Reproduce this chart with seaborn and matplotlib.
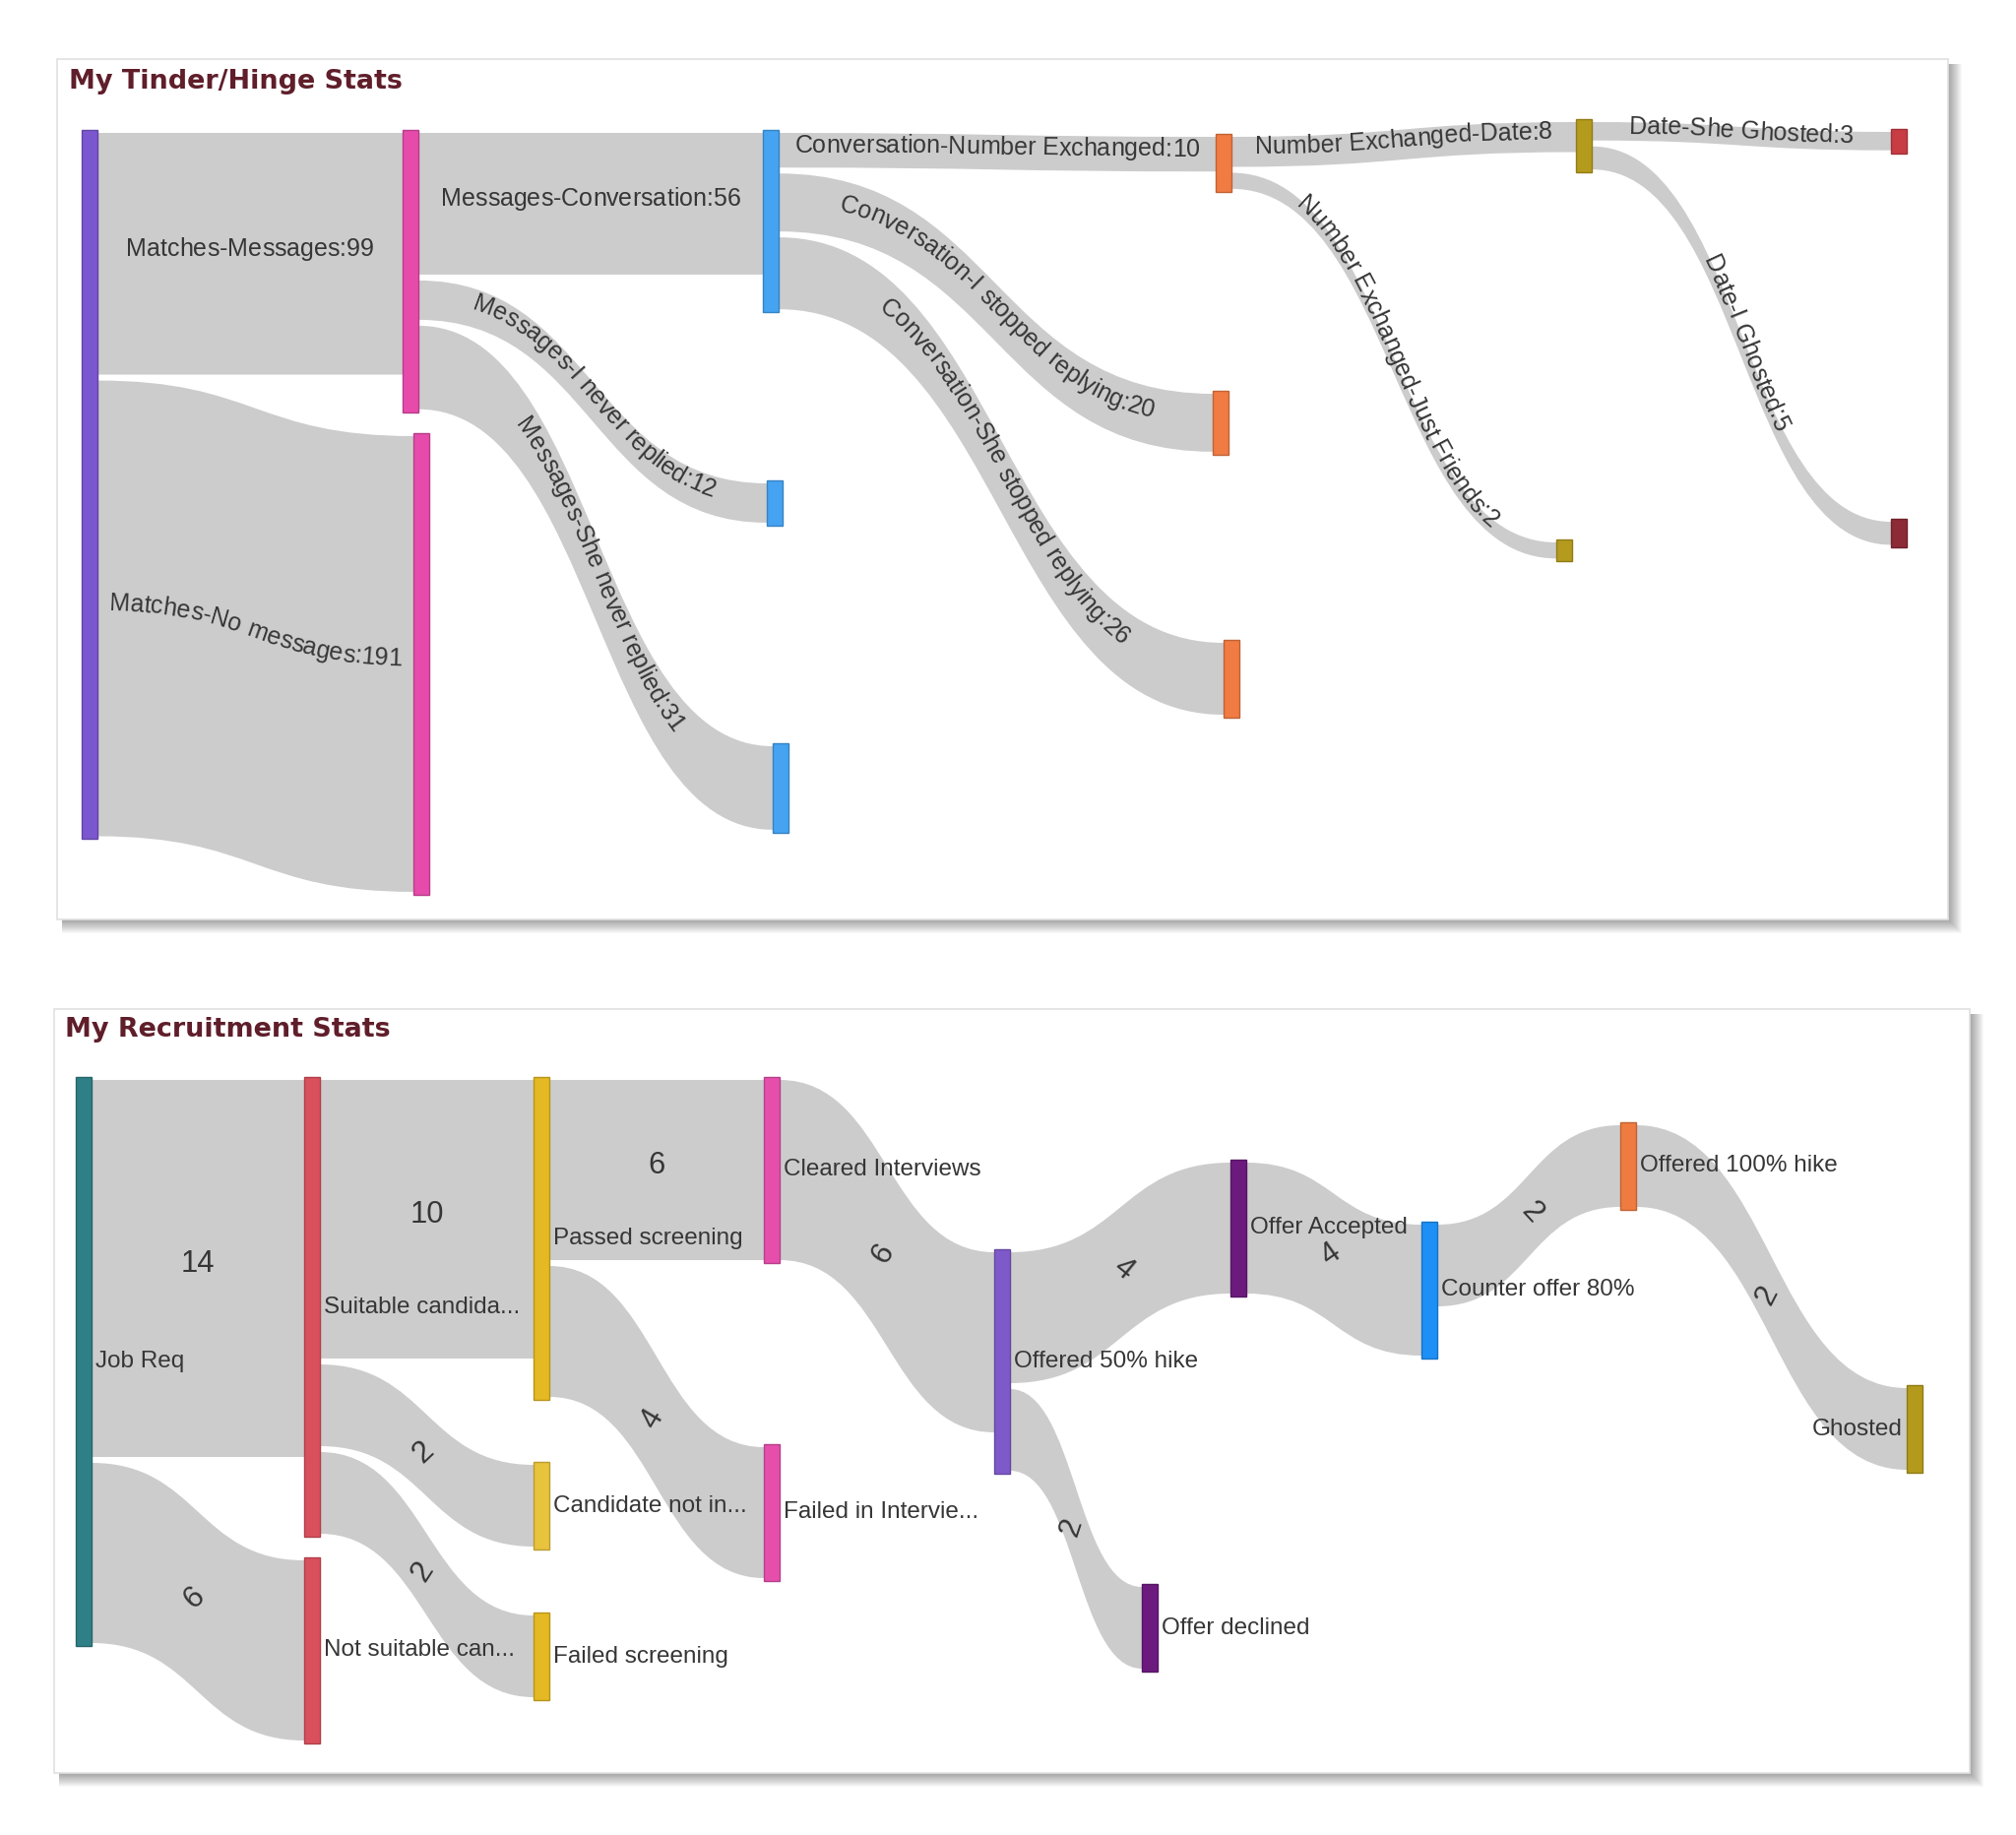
import numpy as np
import matplotlib
matplotlib.use("Agg")
import matplotlib.pyplot as plt
import seaborn as sns
from matplotlib.path import Path
from matplotlib.patches import PathPatch, Rectangle
from matplotlib import ft2font
from matplotlib.font_manager import FontProperties, findfont, get_font
from matplotlib.colors import to_rgb

# ------------------------------------------------------------------ data
tinder_nodes = ["Matches", "Messages", "No messages", "Conversation",
                "I never replied", "She never replied", "Number Exchanged",
                "I stopped replying", "She stopped replying", "Date",
                "Just Friends", "She Ghosted", "I Ghosted"]
tinder_sources = ["Matches", "Matches", "Messages", "Messages", "Messages",
                  "Conversation", "Conversation", "Conversation",
                  "Number Exchanged", "Number Exchanged", "Date", "Date"]
tinder_targets = ["Messages", "No messages", "Conversation", "I never replied",
                  "She never replied", "Number Exchanged", "I stopped replying",
                  "She stopped replying", "Date", "Just Friends",
                  "She Ghosted", "I Ghosted"]
tinder_values = [99, 191, 56, 12, 31, 10, 20, 26, 8, 2, 3, 5]

recruit_nodes = ["Job Req", "Suitable candidates", "Not suitable candidates",
                 "Passed screening", "Candidate not interested", "Failed screening",
                 "Cleared Interviews", "Failed in Interviews", "Offered 50% hike",
                 "Offer declined", "Offer Accepted", "Counter offer 80%",
                 "Offered 100% hike", "Ghosted"]
recruit_node_labels = ["Job Req", "Suitable candida...", "Not suitable can...",
                       "Passed screening", "Candidate not in...", "Failed screening",
                       "Cleared Interviews", "Failed in Intervie...", "Offered 50% hike",
                       "Offer declined", "Offer Accepted", "Counter offer 80%",
                       "Offered 100% hike", "Ghosted"]
recruit_sources = ["Job Req", "Job Req", "Suitable candidates", "Suitable candidates",
                   "Suitable candidates", "Passed screening", "Passed screening",
                   "Cleared Interviews", "Offered 50% hike", "Offered 50% hike",
                   "Offer Accepted", "Counter offer 80%", "Offered 100% hike"]
recruit_targets = ["Suitable candidates", "Not suitable candidates", "Passed screening",
                   "Candidate not interested", "Failed screening", "Cleared Interviews",
                   "Failed in Interviews", "Offered 50% hike", "Offer Accepted",
                   "Offer declined", "Counter offer 80%", "Offered 100% hike", "Ghosted"]
recruit_values = [14, 6, 10, 2, 2, 6, 4, 6, 4, 2, 4, 2, 2]

tinder_title = "My Tinder/Hinge Stats"
recruit_title = "My Recruitment Stats"

# ------------------------------------------------------------------ styles / layout (pixels)
tinder_colors = ["#7b57cf", "#e64bab", "#e64bab", "#45a3f2", "#45a3f2", "#45a3f2",
                 "#f07b43", "#f07b43", "#f07b43", "#b49b1e", "#b49b1e",
                 "#c83c44", "#8c2a36"]
recruit_colors = ["#2e7f86", "#d9505c", "#d9505c", "#e5b923", "#e8c33e", "#e5b923",
                  "#e54fab", "#e54fab", "#7e59c9", "#6c1a7e", "#6c1a7e", "#1e8ff5",
                  "#ef7b40", "#b39a1c"]
recruit_label_side = ["right"] * 13 + ["left"]

tinder_node_x = [83, 409, 420, 775, 779, 785, 1235, 1232, 1243, 1601, 1581, 1921, 1921]
tinder_node_y = [132, 132, 440, 132, 488, 755, 136, 397, 650, 121, 548, 131, 527]
recruit_node_x = [77, 309, 309, 542, 542, 542, 776, 776, 1010, 1160, 1250, 1444, 1646, 1937]
recruit_node_y = [1094, 1094, 1582, 1094, 1485, 1638, 1094, 1467, 1269, 1609, 1178,
                  1241, 1140, 1407]

NODE_W = 16
INSET = 3
TINDER_SCALE = (17.6, 2.363)   # width = a + b * value
RECRUIT_SCALE = (39.0, 25.0)
LINK_COLOR = "#cccccc"
TEXT_COLOR = "#363636"
TITLE_COLOR = "#5f1e2a"
DPI = 100
FIG_W, FIG_H = 2048, 1864

sns.set_theme(style="white")
plt.rcParams['font.family'] = ['Liberation Sans', 'DejaVu Sans']


def px2pt(px):
    return px * 72.0 / DPI


def advances(text, fp, size_px):
    font = get_font(findfont(fp))
    font.set_size(px2pt(size_px), DPI)
    flags = (ft2font.LoadFlags.NO_HINTING if hasattr(ft2font, "LoadFlags")
             else ft2font.LOAD_NO_HINTING)
    out = []
    for ch in text:
        g = font.load_char(ord(ch), flags=flags)
        out.append(g.linearHoriAdvance / 65536.0)
    return np.array(out)


def bez(P, t):
    p0, p1, p2, p3 = [np.asarray(p, float) for p in P]
    t = np.atleast_1d(t)[:, None]
    return ((1 - t) ** 3) * p0 + 3 * ((1 - t) ** 2) * t * p1 + 3 * (1 - t) * t ** 2 * p2 + t ** 3 * p3


def bez_d(P, t):
    p0, p1, p2, p3 = [np.asarray(p, float) for p in P]
    t = np.atleast_1d(t)[:, None]
    return 3 * ((1 - t) ** 2) * (p1 - p0) + 6 * (1 - t) * t * (p2 - p1) + 3 * t ** 2 * (p3 - p2)


def layout_links(nodes, sources, targets, values, ny, scale):
    idx = {n: i for i, n in enumerate(nodes)}
    a, b = scale
    out_off = [0.0] * len(nodes)
    in_off = [0.0] * len(nodes)
    links = []
    for s, t, v in zip(sources, targets, values):
        w = a + b * v
        i, j = idx[s], idx[t]
        ys = ny[i] + out_off[i]
        out_off[i] += w
        yt = ny[j] + in_off[j]
        in_off[j] += w
        links.append((i, j, ys, yt, w, s, t, v))
    heights = [max(o, n) for o, n in zip(out_off, in_off)]
    return links, heights


def draw_band(ax, x0, x1, ys, yt, w):
    xm = (x0 + x1) / 2.0
    a0, a1 = ys + INSET, yt + INSET
    b0, b1 = ys + w - INSET, yt + w - INSET
    verts = [(x0, a0), (xm, a0), (xm, a1), (x1, a1), (x1, b1), (xm, b1), (xm, b0),
             (x0, b0), (x0, a0)]
    codes = [Path.MOVETO, Path.CURVE4, Path.CURVE4, Path.CURVE4, Path.LINETO,
             Path.CURVE4, Path.CURVE4, Path.CURVE4, Path.CLOSEPOLY]
    ax.add_patch(PathPatch(Path(verts, codes), facecolor=LINK_COLOR, edgecolor="none",
                           zorder=2))
    yc0, yc1 = ys + w / 2.0, yt + w / 2.0
    return [(x0, yc0), (xm, yc0), (xm, yc1), (x1, yc1)]


def text_on_path(ax, P, text, size_px, base_off):
    fp = FontProperties(family=['Liberation Sans', 'DejaVu Sans'])
    t = np.linspace(0, 1, 1201)
    pts = bez(P, t)
    seg = np.hypot(np.diff(pts[:, 0]), np.diff(pts[:, 1]))
    s = np.concatenate([[0.0], np.cumsum(seg)])
    adv = advances(text, fp, size_px)
    start = s[-1] / 2.0 - adv.sum() / 2.0
    centers = start + np.cumsum(adv) - adv / 2.0
    for ch, sc in zip(text, centers):
        tt = np.interp(sc, s, t)
        x, y = bez(P, tt)[0]
        dx, dy = bez_d(P, tt)[0]
        th = -np.arctan2(dy, dx)
        ax.text(x + base_off * np.sin(th), y + base_off * np.cos(th), ch,
                rotation=np.degrees(th), rotation_mode="anchor", ha="center",
                va="baseline", fontsize=px2pt(size_px), color=TEXT_COLOR,
                family=['Liberation Sans', 'DejaVu Sans'], zorder=5)


def value_label(ax, P, text, size_px, base_off):
    x, y = bez(P, 0.5)[0]
    dx, dy = bez_d(P, 0.5)[0]
    th = np.arctan2(dy, dx)  # rotation as drawn in the original visual
    ax.text(x + base_off * np.sin(th), y + base_off * np.cos(th), text,
            rotation=np.degrees(th), rotation_mode="anchor", ha="center",
            va="baseline", fontsize=px2pt(size_px), color=TEXT_COLOR,
            family=['Liberation Sans', 'DejaVu Sans'], zorder=5)


def draw_nodes(ax, nx, ny, heights, colors):
    for x, y, h, c in zip(nx, ny, heights, colors):
        edge = tuple(np.array(to_rgb(c)) * 0.8)
        ax.add_patch(Rectangle((x, y), NODE_W, h, facecolor=c, edgecolor=edge,
                               lw=1.0, zorder=3))


def draw_panel(ax, box, title, tx, ty):
    x0, y0, x1, y1 = box
    for k in range(1, 15):
        ax.add_patch(Rectangle((x0 + 5, y0 + 5), (x1 - x0) - 5 + k, (y1 - y0) - 5 + k,
                               facecolor="#000000", alpha=0.028, lw=0, zorder=0))
    ax.add_patch(Rectangle((x0, y0), x1 - x0, y1 - y0, facecolor="white",
                           edgecolor="#e0e0e0", lw=1.2, zorder=1))
    ax.text(tx, ty, title, fontsize=px2pt(27), fontweight="bold", color=TITLE_COLOR,
            family=["DejaVu Sans"], ha="left", va="baseline", zorder=5)


fig = plt.figure(figsize=(FIG_W / DPI, FIG_H / DPI), dpi=DPI)
fig.patch.set_facecolor("white")
ax = fig.add_axes([0, 0, 1, 1])
ax.set_xlim(0, FIG_W)
ax.set_ylim(FIG_H, 0)
ax.axis("off")

# ---------------------------------------------------------------- Tinder / Hinge panel
draw_panel(ax, (58, 60, 1979, 934), tinder_title, 70, 90)
links, heights = layout_links(tinder_nodes, tinder_sources, tinder_targets,
                              tinder_values, tinder_node_y, TINDER_SCALE)
for i, j, ys, yt, w, s, t, v in links:
    P = draw_band(ax, tinder_node_x[i] + NODE_W, tinder_node_x[j], ys, yt, w)
    text_on_path(ax, P, f"{s}-{t}:{v}", 25, 2)
draw_nodes(ax, tinder_node_x, tinder_node_y, heights, tinder_colors)

# ---------------------------------------------------------------- Recruitment panel
draw_panel(ax, (55, 1025, 2001, 1801), recruit_title, 66, 1053)
links, heights = layout_links(recruit_nodes, recruit_sources, recruit_targets,
                              recruit_values, recruit_node_y, RECRUIT_SCALE)
for i, j, ys, yt, w, s, t, v in links:
    P = draw_band(ax, recruit_node_x[i] + NODE_W, recruit_node_x[j], ys, yt, w)
    value_label(ax, P, str(v), 31, 3)
draw_nodes(ax, recruit_node_x, recruit_node_y, heights, recruit_colors)
for x, y, h, lab, side in zip(recruit_node_x, recruit_node_y, heights,
                              recruit_node_labels, recruit_label_side):
    if side == "right":
        ax.text(x + NODE_W + 4, y + h / 2.0, lab, ha="left", va="center",
                fontsize=px2pt(24.3), color=TEXT_COLOR, zorder=5)
    else:
        ax.text(x - 4, y + h / 2.0, lab, ha="right", va="center",
                fontsize=px2pt(24.3), color=TEXT_COLOR, zorder=5)

fig.savefig("out.png", dpi=DPI, facecolor="white")
